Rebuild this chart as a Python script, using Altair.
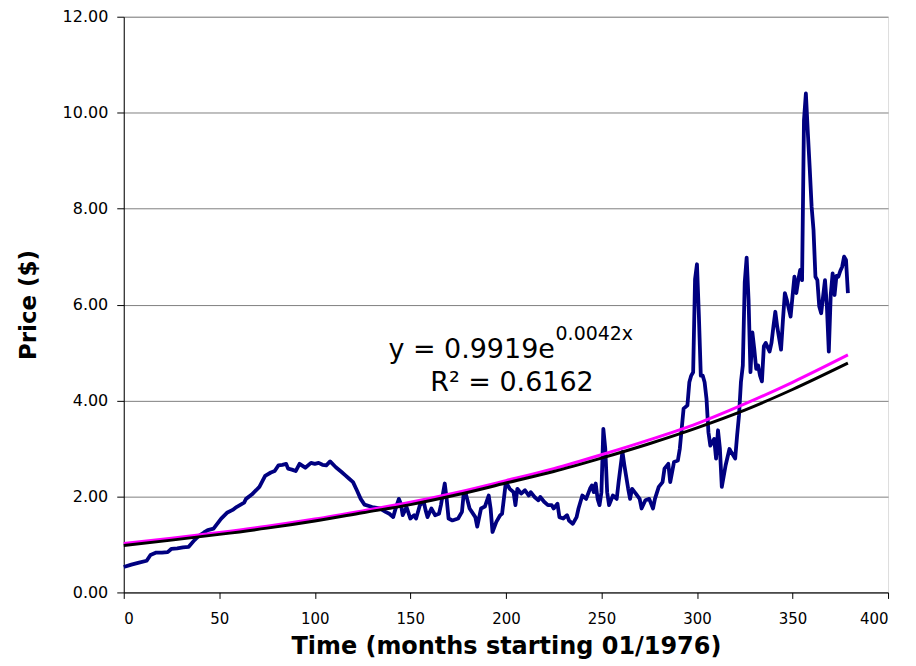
import altair as alt
import pandas as pd

# Monthly price readings (months since 01/1976, $)
months = [0, 4, 8, 12, 14, 17, 20, 23, 25, 28, 31, 34, 37, 39, 42, 44, 47, 51, 54, 57,
          59, 63, 64, 67, 71, 74, 77, 79, 81, 83, 85, 86, 88, 90, 92, 95, 98, 100, 102, 104,
          106, 108, 111, 114, 116, 118, 120, 122, 124, 126, 130, 134, 137, 139, 141, 142, 144, 145, 146, 148,
          150, 152, 153, 155, 157, 158, 159, 161, 163, 165, 166, 168, 169, 170, 172, 175, 177, 178, 179, 181,
          184, 185, 187, 189, 191, 192, 193, 195, 197, 198, 200, 202, 204, 205, 206, 208, 210, 212, 213, 215,
          217, 218, 220, 222, 224, 225, 227, 228, 230, 232, 233, 235, 237, 238, 240, 242, 244, 245, 246, 247,
          248, 249, 250, 251, 252, 253, 254, 256, 258, 259, 261, 262, 264, 265, 266, 268, 270, 271, 273, 275,
          277, 278, 280, 282, 283, 285, 286, 288, 290, 291, 292, 293, 295, 296, 297, 298, 299, 300, 301, 302,
          303, 304, 305, 306, 307, 309, 310, 311, 312, 313, 315, 317, 318, 320, 321, 322, 323, 324, 325, 326,
          327, 328, 329, 330, 331, 332, 333, 334, 335, 336, 338, 339, 340, 341, 342, 344, 345, 346, 347, 349,
          350, 351, 352, 353, 354, 355, 356, 357, 358, 359, 360, 361, 362, 363, 364, 365, 366, 367, 368, 369,
          370, 371, 372, 373, 374, 375, 376, 377, 378, 379]
prices = [0.53, 0.58, 0.62, 0.66, 0.78, 0.83, 0.83, 0.84, 0.91, 0.92, 0.94, 0.95, 1.09, 1.17, 1.25, 1.30, 1.33, 1.54, 1.66, 1.72,
          1.78, 1.87, 1.95, 2.04, 2.20, 2.43, 2.50, 2.53, 2.65, 2.66, 2.68, 2.58, 2.56, 2.53, 2.68, 2.60, 2.70, 2.68, 2.70, 2.66,
          2.65, 2.73, 2.61, 2.51, 2.44, 2.37, 2.30, 2.13, 1.95, 1.83, 1.78, 1.75, 1.68, 1.64, 1.57, 1.71, 1.95, 1.85, 1.61, 1.78,
          1.54, 1.61, 1.54, 1.82, 1.89, 1.71, 1.57, 1.75, 1.61, 1.64, 1.82, 2.27, 1.95, 1.54, 1.50, 1.54, 1.68, 2.09, 2.06, 1.75,
          1.57, 1.37, 1.75, 1.79, 2.02, 1.75, 1.26, 1.47, 1.61, 1.64, 2.30, 2.16, 2.09, 1.82, 2.16, 2.06, 2.13, 2.02, 2.09, 1.99,
          1.92, 1.99, 1.89, 1.82, 1.82, 1.75, 1.85, 1.57, 1.54, 1.61, 1.50, 1.43, 1.57, 1.75, 2.02, 1.95, 2.16, 2.23, 2.09, 2.27,
          1.95, 1.82, 2.09, 3.41, 3.00, 2.09, 1.82, 2.02, 1.95, 2.30, 2.93, 2.65, 2.16, 1.95, 2.16, 2.06, 1.95, 1.75, 1.92, 1.95,
          1.75, 1.95, 2.20, 2.30, 2.58, 2.68, 2.30, 2.72, 2.75, 2.99, 3.41, 3.83, 3.90, 4.38, 4.52, 4.59, 6.53, 6.84, 5.77, 4.52,
          4.52, 4.38, 4.03, 3.34, 3.06, 3.20, 2.79, 3.38, 3.00, 2.20, 2.65, 2.99, 2.92, 2.79, 3.27, 3.69, 4.38, 4.73, 6.46, 6.98,
          6.10, 4.59, 5.42, 5.07, 4.66, 4.73, 4.52, 4.40, 5.13, 5.20, 5.02, 5.20, 5.54, 5.85, 5.54, 5.06, 5.68, 6.24, 6.10, 5.75,
          6.17, 6.58, 6.24, 6.51, 6.72, 6.51, 9.84, 10.40, 9.60, 8.85, 8.04, 7.55, 6.58, 6.51, 5.96, 5.82, 6.17, 6.51, 5.96, 5.02,
          6.20, 6.65, 6.20, 6.60, 6.58, 6.70, 6.79, 7.00, 6.93, 6.24]

# Exponential trendline (pink) and second fitted curve (black)
trend_months = [0, 25, 50, 75, 100, 125, 150, 175, 200, 225, 250, 275, 300, 325, 350, 379]
trend_pink = [1.02, 1.13, 1.25, 1.38, 1.53, 1.70, 1.88, 2.09, 2.33, 2.58, 2.87, 3.18, 3.52, 3.93, 4.38, 4.95]
trend_black = [0.98, 1.09, 1.21, 1.34, 1.49, 1.66, 1.83, 2.04, 2.28, 2.52, 2.80, 3.10, 3.43, 3.80, 4.23, 4.78]

x_ticks = [0, 50, 100, 150, 200, 250, 300, 350, 400]
y_ticks = [0, 2, 4, 6, 8, 10, 12]

price_df = pd.DataFrame({"month": months, "price": prices})
trend_df = pd.DataFrame({"month": trend_months, "pink": trend_pink, "black": trend_black})

FONT = "DejaVu Sans"

x_enc = alt.X("month:Q",
              scale=alt.Scale(domain=[0, 400], nice=False, zero=True),
              axis=alt.Axis(values=x_ticks, title="Time (months starting 01/1976)",
                            grid=False, labelFontSize=15, titleFontSize=24,
                            titleFontWeight="bold", titleFont=FONT, labelFont=FONT,
                            labelColor="black", titleColor="black",
                            domainColor="black", tickColor="black", tickSize=6,
                            labelPadding=13, titlePadding=8))
y_axis = alt.Axis(values=y_ticks, format=".2f", title="Price ($)",
                  grid=True, gridColor="#808080", gridWidth=1,
                  labelFontSize=16, titleFontSize=23, titleFontWeight="bold",
                  titleFont=FONT, labelFont=FONT, labelColor="black", titleColor="black",
                  domainColor="black", tickColor="black", tickSize=7,
                  labelPadding=9, titlePadding=22)
y_scale = alt.Scale(domain=[0, 12], nice=False)

price_line = alt.Chart(price_df).mark_line(color="#000080", strokeWidth=3.8, strokeJoin="round").encode(
    x=x_enc,
    y=alt.Y("price:Q", scale=y_scale, axis=y_axis),
)

pink_line = alt.Chart(trend_df).mark_line(color="#FF00FF", strokeWidth=3, interpolate="monotone").encode(
    x="month:Q", y="pink:Q"
)
black_line = alt.Chart(trend_df).mark_line(color="black", strokeWidth=3, interpolate="monotone").encode(
    x="month:Q", y="black:Q"
)

eq_df = pd.DataFrame({"month": [138.5], "val": [4.88], "label": ["y = 0.9919e"]})
sup_df = pd.DataFrame({"month": [226.0], "val": [5.27], "label": ["0.0042x"]})
r2_df = pd.DataFrame({"month": [160.4], "val": [4.19], "label": ["R² = 0.6162"]})

eq_text = alt.Chart(eq_df).mark_text(align="left", baseline="alphabetic", fontSize=27, font=FONT, color="black").encode(
    x="month:Q", y="val:Q", text="label:N")
sup_text = alt.Chart(sup_df).mark_text(align="left", baseline="alphabetic", fontSize=19, font=FONT, color="black").encode(
    x="month:Q", y="val:Q", text="label:N")
r2_text = alt.Chart(r2_df).mark_text(align="left", baseline="alphabetic", fontSize=27, font=FONT, color="black").encode(
    x="month:Q", y="val:Q", text="label:N")

chart = alt.layer(price_line, pink_line, black_line, eq_text, sup_text, r2_text).properties(
    width=766, height=577,
    autosize=alt.AutoSizeParams(type="none"),
    padding={"left": 116, "top": 8, "right": 20, "bottom": 72},
).configure_view(stroke="#808080", strokeWidth=1.5).configure(background="white")

chart.save("out.html", embed_options={"renderer": "svg", "actions": False})
